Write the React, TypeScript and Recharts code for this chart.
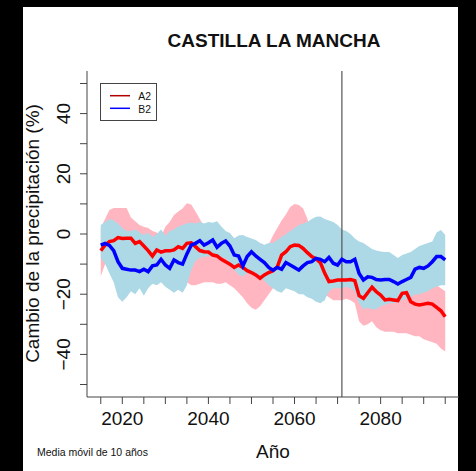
import React from 'react';
import { ComposedChart, Area, Line, XAxis, YAxis, ReferenceLine } from 'recharts';

const years = [
  2015, 2016, 2017, 2018, 2019, 2020, 2021, 2022, 2023, 2024,
  2025, 2026, 2027, 2028, 2029, 2030, 2031, 2032, 2033, 2034,
  2035, 2036, 2037, 2038, 2039, 2040, 2041, 2042, 2043, 2044,
  2045, 2046, 2047, 2048, 2049, 2050, 2051, 2052, 2053, 2054,
  2055, 2056, 2057, 2058, 2059, 2060, 2061, 2062, 2063, 2064,
  2065, 2066, 2067, 2068, 2069, 2070, 2071, 2072, 2073, 2074,
  2075, 2076, 2077, 2078, 2079, 2080, 2081, 2082, 2083, 2084,
  2085, 2086, 2087, 2088, 2089, 2090, 2091, 2092, 2093, 2094,
  2095,
];

const a2Mean = [
  -5.5, -3.7, -2.5, -2.2, -1.2, -1.5, -1.4, -1.4, -3.1, -2.5,
  -4.0, -5.5, -7.3, -5.3, -6.0, -5.6, -5.6, -5.3, -4.2, -4.8,
  -3.1, -2.9, -4.2, -5.5, -5.9, -6.0, -7.0, -7.3, -8.4, -9.2,
  -10.0, -11.1, -10.3, -11.1, -12.2, -12.8, -13.6, -14.7, -13.6, -12.8,
  -12.2, -10.9, -7.0, -5.9, -4.2, -3.7, -3.8, -4.8, -6.2, -7.5,
  -8.3, -9.5, -13.0, -15.8, -15.6, -15.3, -15.3, -15.3, -15.1, -15.5,
  -20.5, -21.4, -19.5, -17.7, -19.2, -20.3, -21.9, -21.7, -21.9, -22.1,
  -19.7, -19.5, -22.5, -23.3, -23.6, -23.3, -23.0, -23.3, -24.4, -25.5,
  -27.5,
];

const b2Mean = [
  -3.7, -3.1, -3.8, -5.5, -9.2, -11.4, -11.7, -12.0, -12.0, -12.5,
  -11.7, -12.5, -10.6, -10.3, -8.4, -10.3, -11.4, -8.6, -9.5, -10.0,
  -6.6, -3.7, -3.1, -2.2, -3.7, -2.9, -2.0, -4.4, -3.1, -2.3,
  -4.0, -7.0, -7.3, -10.6, -7.5, -5.9, -7.3, -8.4, -9.5, -11.1,
  -12.0, -11.1, -11.7, -9.5, -10.3, -11.1, -12.0, -10.6, -9.5, -9.2,
  -8.1, -8.4, -9.2, -7.8, -9.7, -10.3, -8.4, -9.2, -9.2, -8.4,
  -13.1, -15.3, -14.2, -14.4, -15.1, -15.3, -15.1, -15.1, -15.8, -16.6,
  -15.8, -15.1, -14.4, -11.7, -11.1, -11.4, -10.6, -9.2, -7.5, -7.5,
  -8.6,
];

const a2Max = [
  2.0, 5.0, 8.0, 8.6, 8.6, 8.6, 8.6, 5.5, 4.2, 3.0,
  2.4, 2.0, 1.0, 0.5, -0.9, 2.4, 4.0, 6.3, 7.5, 8.5,
  10.2, 9.8, 7.5, 5.0, 2.5, 0.0, -2.0, -3.0, -3.5, -4.0,
  -4.5, -5.0, -5.0, -5.5, -6.0, -6.5, -7.0, -6.5, -5.0, -3.5,
  -0.5, 2.0, 4.5, 6.5, 9.0, 10.0, 9.6, 8.5, 5.0, 1.0,
  -1.0, -3.0, -5.0, -7.0, -8.0, -8.5, -9.0, -9.0, -9.0, -9.0,
  -13.0, -14.0, -13.0, -12.0, -13.0, -14.0, -15.0, -15.0, -15.0, -15.0,
  -14.0, -14.0, -16.0, -17.0, -17.0, -17.0, -16.0, -16.0, -17.0, -18.0,
  -19.0,
];

const a2Min = [
  -14.0, -10.0, -8.0, -9.0, -10.0, -10.0, -10.0, -10.0, -11.0, -11.0,
  -12.0, -13.0, -14.0, -13.0, -13.0, -13.0, -13.0, -13.0, -14.0, -15.0,
  -16.0, -17.0, -17.0, -16.5, -16.0, -16.0, -16.0, -16.5, -16.5, -16.0,
  -17.0, -18.0, -19.5, -21.0, -23.0, -24.5, -25.2, -24.0, -22.0, -20.0,
  -18.0, -16.5, -15.0, -14.0, -14.0, -13.0, -13.0, -13.0, -14.0, -15.0,
  -16.0, -18.0, -20.0, -21.0, -22.0, -22.0, -22.0, -21.5, -22.0, -23.0,
  -29.0, -30.5, -30.0, -29.0, -31.0, -32.0, -32.5, -32.5, -32.5, -33.0,
  -33.0, -33.0, -33.5, -34.0, -34.0, -35.0, -35.5, -36.0, -36.5, -38.0,
  -39.0,
];

const b2Max = [
  3.0, 4.0, 5.0, 4.5, 3.5, 2.0, 1.0, 1.0, 1.5, 0.5,
  -0.3, 0.5, -1.0, 0.0, 1.5, -0.5, 1.0, 1.5, 2.5, 3.0,
  3.5, 3.8, 3.5, 4.0, 3.5, 4.0, 3.7, 4.2, 2.5, 1.0,
  0.3, -1.4, -0.5, -0.3, -1.0, -1.5, -2.0, -3.0, -3.6, -3.0,
  -3.0, -2.0, -1.0, 0.0, 1.0, 2.0, 3.0, 3.5, 4.0, 5.0,
  5.7, 5.8, 5.0, 4.5, 4.0, 3.0, 1.5, 1.0, 0.0, -1.5,
  -2.5, -3.0, -4.0, -5.0, -5.5, -5.8, -6.0, -6.0, -7.0, -8.0,
  -7.0, -6.5, -6.0, -5.0, -4.0, -3.5, -3.0, -2.5, 0.5, 1.3,
  -0.3,
];

const b2Min = [
  -8.0, -10.0, -13.0, -16.0, -21.0, -22.5, -21.0, -19.0, -20.0, -18.0,
  -20.5, -18.0, -16.5, -17.0, -16.0, -17.5, -18.5, -19.5, -18.5, -19.5,
  -17.0, -12.0, -9.0, -8.0, -7.5, -7.5, -7.5, -8.0, -8.0, -8.0,
  -10.0, -12.0, -13.5, -14.0, -13.0, -13.0, -14.0, -14.5, -15.5, -17.0,
  -18.0, -19.0, -19.5, -18.0, -18.5, -19.0, -20.0, -20.0, -21.0, -21.5,
  -22.5, -23.0, -22.0, -19.0, -18.0, -18.0, -18.0, -17.5, -18.0, -19.0,
  -23.0, -25.0, -24.5, -25.0, -25.0, -24.0, -23.5, -23.0, -23.0, -22.5,
  -22.0, -21.5, -21.0, -20.0, -20.0, -19.5, -19.0, -18.0, -17.5, -17.0,
  -17.0,
];

const xTicks = [2015, 2020, 2025, 2030, 2035, 2040, 2045, 2050, 2055, 2060, 2065, 2070, 2075, 2080, 2085, 2090, 2095];
const xLabelTicks = [2020, 2040, 2060, 2080];
const yTicks = [-50, -40, -30, -20, -10, 0, 10, 20, 30, 40, 50];
const yLabelTicks = [-40, -20, 0, 20, 40];
const markerYear = 2071;

const data = years.map((year, i) => ({
  year,
  a2: a2Mean[i],
  b2: b2Mean[i],
  aRange: [a2Min[i], a2Max[i]],
  bRange: [b2Min[i], b2Max[i]],
}));

const FONT = '"Liberation Sans", Arial, Helvetica, sans-serif';
const X_DOMAIN: [number, number] = [2011.8, 2098.2];
const Y_DOMAIN: [number, number] = [-54.15, 54.15];
const BOX = '#444';

const fmt = (v: number) => (v < 0 ? '\u2212' + Math.abs(v) : String(v));

const XTick = (props: any) => {
  const { x, payload } = props;
  if (!xLabelTicks.includes(payload.value)) return <g />;
  return (
    <text x={x} y={425} textAnchor="middle" fontSize={19} fontFamily={FONT} fill="#111">
      {payload.value}
    </text>
  );
};

const YTick = (props: any) => {
  const { y, payload } = props;
  if (!yLabelTicks.includes(payload.value)) return <g />;
  return (
    <text
      x={70}
      y={y}
      transform={`rotate(-90, 70, ${y})`}
      textAnchor="middle"
      fontSize={19}
      fontFamily={FONT}
      fill="#111"
    >
      {fmt(payload.value)}
    </text>
  );
};

export default function App() {
  return (
    <div style={{ position: 'absolute', left: 0, top: 0, width: 476, height: 471, background: '#000', overflow: 'hidden' }}>
      <div style={{ position: 'absolute', left: 23, top: 7, width: 435, height: 464, background: '#fff' }} />
      <div style={{ position: 'absolute', left: 0, top: 0 }}>
        <ComposedChart
          width={476}
          height={471}
          data={data}
          margin={{ top: 71, right: 17, bottom: 44, left: 27 }}
        >
          <XAxis
            dataKey="year"
            type="number"
            domain={X_DOMAIN}
            ticks={xTicks}
            allowDataOverflow
            height={30}
            tickSize={7}
            tickLine={{ stroke: BOX }}
            axisLine={{ stroke: BOX }}
            tick={<XTick />}
            interval={0}
          />
          <XAxis
            xAxisId="t"
            orientation="top"
            type="number"
            domain={X_DOMAIN}
            allowDataOverflow
            height={0}
            tick={false}
            tickLine={false}
            axisLine={{ stroke: BOX }}
          />
          <YAxis
            type="number"
            domain={Y_DOMAIN}
            ticks={yTicks}
            allowDataOverflow
            width={60}
            tickSize={7}
            tickLine={{ stroke: BOX }}
            axisLine={{ stroke: BOX }}
            tick={<YTick />}
            interval={0}
          />
          <YAxis
            yAxisId="r"
            orientation="right"
            type="number"
            domain={Y_DOMAIN}
            allowDataOverflow
            width={0}
            tick={false}
            tickLine={false}
            axisLine={{ stroke: BOX }}
          />
          <Area
            type="linear"
            dataKey="aRange"
            stroke="none"
            fill="#FFB6C1"
            fillOpacity={1}
            isAnimationActive={false}
            activeDot={false}
          />
          <Area
            type="linear"
            dataKey="bRange"
            stroke="none"
            fill="#ADD8E6"
            fillOpacity={1}
            isAnimationActive={false}
            activeDot={false}
          />
          <ReferenceLine x={markerYear} stroke="#555" strokeWidth={1.2} />
          <Line
            type="linear"
            dataKey="a2"
            stroke="#FF0000"
            strokeWidth={3.5}
            dot={false}
            isAnimationActive={false}
          />
          <Line
            type="linear"
            dataKey="b2"
            stroke="#0000FF"
            strokeWidth={3.5}
            dot={false}
            isAnimationActive={false}
          />
        </ComposedChart>
      </div>
      <svg
        width={476}
        height={471}
        style={{ position: 'absolute', left: 0, top: 0, pointerEvents: 'none' }}
        fontFamily={FONT}
      >
        <text x={274} y={47} textAnchor="middle" fontSize={19} fontWeight="bold" fill="#111">
          CASTILLA LA MANCHA
        </text>
        <text x={273} y={458} textAnchor="middle" fontSize={19} fill="#111">
          Año
        </text>
        <text
          x={38.5}
          y={233.5}
          transform="rotate(-90, 38.5, 233.5)"
          textAnchor="middle"
          fontSize={19}
          fill="#111"
        >
          Cambio de la precipitación (%)
        </text>
        <text x={37} y={456} fontSize={10.5} fill="#111">
          Media móvil de 10 años
        </text>
        <rect x={100.5} y={83.5} width={56} height={37} fill="#fff" stroke={BOX} strokeWidth={1} />
        <line x1={110} y1={95.7} x2={130} y2={95.7} stroke="#b00000" strokeWidth={1.5} />
        <line x1={110} y1={108.3} x2={130} y2={108.3} stroke="#0000FF" strokeWidth={1.5} />
        <text x={138.3} y={99.5} fontSize={10.4} fill="#111">A2</text>
        <text x={138.3} y={112.5} fontSize={10.4} fill="#111">B2</text>
      </svg>
    </div>
  );
}
